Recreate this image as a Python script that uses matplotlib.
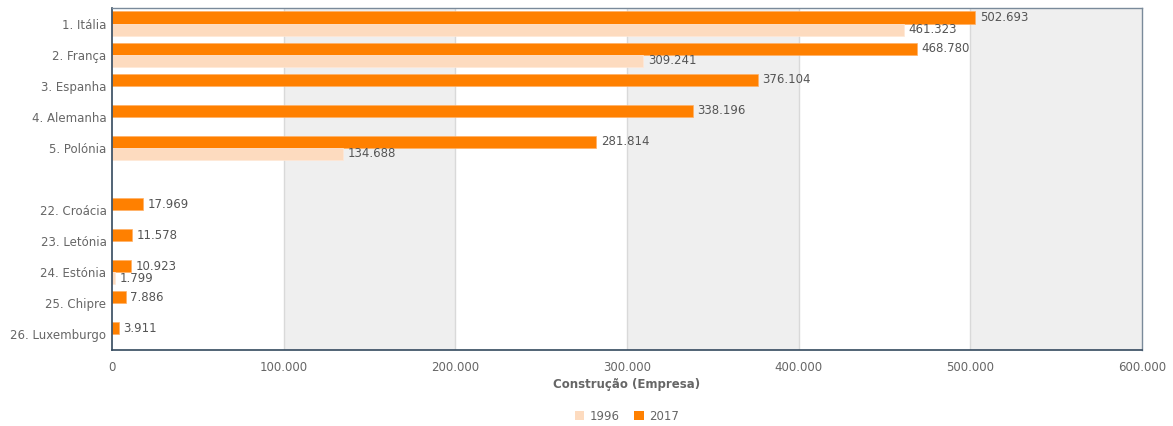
import matplotlib.pyplot as plt
import numpy as np
from matplotlib.patches import Patch

countries = ['1. Itália', '2. França', '3. Espanha', '4. Alemanha', '5. Polónia', '',
             '22. Croácia', '23. Letónia', '24. Estónia', '25. Chipre', '26. Luxemburgo']
v2017 = [502693, 468780, 376104, 338196, 281814, None,
         17969, 11578, 10923, 7886, 3911]
v1996 = [461323, 309241, None, None, 134688, None,
         None, None, 1799, None, None]
xticks = [0, 100000, 200000, 300000, 400000, 500000, 600000]

c2017 = '#ff8000'
c1996 = '#fddbbf'
txt = '#666666'
fs = 8.5

plt.rcParams['font.family'] = ['DejaVu Sans']

fig = plt.figure(figsize=(11.73, 4.26), dpi=100)
ax = fig.add_axes([112/1173, 1-350/426, 1030/1173, 342/426])

n = len(countries)
y = np.arange(n)
bh = 0.39

# alternating bands
for i in range(len(xticks) - 1):
    if i % 2 == 1:
        ax.axvspan(xticks[i], xticks[i+1], color='#efefef', zorder=0, lw=0)
for t in xticks[1:-1]:
    ax.axvline(t, color='#d9d9d9', lw=1, zorder=1)

def fmt(v):
    return '{:,}'.format(v).replace(',', '.')

for i in range(n):
    if v2017[i] is not None:
        ax.barh(y[i] - bh/2, v2017[i], height=bh, color=c2017,
                edgecolor='#ffb066', lw=0.5, zorder=2)
        ax.annotate(fmt(v2017[i]), (v2017[i], y[i] - bh/2), xytext=(3.5, 0),
                    textcoords='offset points', va='center', ha='left',
                    fontsize=fs, color='#555555', zorder=3)
    if v1996[i] is not None:
        ax.barh(y[i] + bh/2, v1996[i], height=bh, color=c1996,
                edgecolor='#ffe8d6', lw=0.5, zorder=2)
        ax.annotate(fmt(v1996[i]), (v1996[i], y[i] + bh/2), xytext=(3.5, 0),
                    textcoords='offset points', va='center', ha='left',
                    fontsize=fs, color='#555555', zorder=3)

ax.set_xlim(0, 600000)
ax.set_ylim(n - 0.5, -0.5)
ax.set_yticks(y)
ax.set_yticklabels(countries)
ax.set_xticks(xticks)
ax.set_xticklabels([fmt(t) for t in xticks])
ax.tick_params(axis='both', length=0, labelsize=fs, labelcolor=txt)
ax.tick_params(axis='x', pad=8)
ax.tick_params(axis='y', pad=4)

for s in ['left', 'bottom']:
    ax.spines[s].set_color('#34495e')
    ax.spines[s].set_linewidth(1.2)
for s in ['top', 'right']:
    ax.spines[s].set_color('#7a8a9a')
    ax.spines[s].set_linewidth(1)

ax.set_xlabel('Construção (Empresa)', fontsize=fs, fontweight='bold', color=txt, labelpad=3)

handles = [Patch(facecolor=c1996, label='1996'), Patch(facecolor=c2017, label='2017')]
fig.legend(handles=handles, loc='center', bbox_to_anchor=(627/1173, 1-416/426), ncol=2,
           frameon=False, fontsize=fs, handlelength=0.8, handleheight=0.8,
           handletextpad=0.5, columnspacing=1.2, labelcolor=txt)

fig.savefig('out.png', dpi=100)
